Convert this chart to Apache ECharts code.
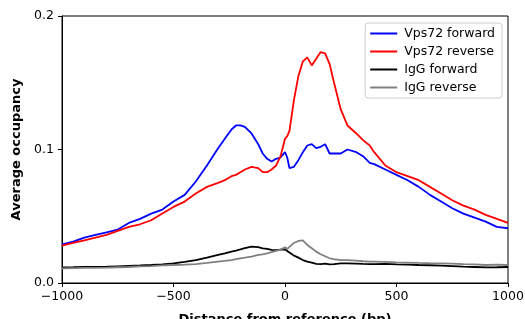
<!DOCTYPE html>
<html>
<head>
<meta charset="utf-8">
<script src="https://cdn.jsdelivr.net/npm/echarts@6/dist/echarts.min.js"></script>
<style>
  html, body { margin: 0; padding: 0; background: #fff; }
  #chartWrapper { width: 525px; height: 319px; }
</style>
</head>
<body>
<div id="chartWrapper"></div>
<script>
// 距離 (bp)
const positions = [
  -1000, -950, -900, -850, -800, -750, -700, -650, -600, -550, -500, -450, -400, -350, -300,
  -270, -240, -220, -200, -180, -150, -120, -100, -80, -60, -40, -20, 0, 10, 20,
  40, 60, 80, 100, 120, 140, 160, 180, 200, 220, 250, 280, 320, 350, 380, 400,
  450, 500, 550, 600, 650, 700, 750, 800, 850, 900, 950, 1000
];
const vps72Forward = [
  0.029, 0.031, 0.034, 0.036, 0.038, 0.040, 0.045, 0.048, 0.052, 0.055, 0.061, 0.066, 0.076, 0.088, 0.101,
  0.108, 0.115, 0.118, 0.118, 0.117, 0.112, 0.104, 0.097, 0.093, 0.091, 0.093, 0.094, 0.098, 0.094, 0.086,
  0.087, 0.092, 0.098, 0.103, 0.104, 0.101, 0.102, 0.104, 0.097, 0.097, 0.097, 0.100, 0.098, 0.095, 0.090, 0.089,
  0.085, 0.081, 0.077, 0.072, 0.066, 0.061, 0.056, 0.052, 0.049, 0.046, 0.042, 0.041
];
const vps72Reverse = [
  0.028, 0.030, 0.032, 0.034, 0.036, 0.039, 0.042, 0.044, 0.047, 0.052, 0.057, 0.061, 0.067, 0.072, 0.075,
  0.077, 0.080, 0.081, 0.083, 0.085, 0.087, 0.086, 0.083, 0.083, 0.085, 0.088, 0.095, 0.108, 0.110, 0.114,
  0.137, 0.155, 0.166, 0.169, 0.163, 0.168, 0.173, 0.172, 0.164, 0.150, 0.130, 0.118, 0.112, 0.107, 0.103, 0.098,
  0.088, 0.083, 0.080, 0.077, 0.072, 0.067, 0.062, 0.058, 0.055, 0.051, 0.048, 0.045
];
const iggForward = [
  0.0117, 0.0118, 0.0120, 0.0121, 0.0122, 0.0125, 0.0128, 0.0131, 0.0135, 0.0140, 0.0147, 0.0158, 0.0172, 0.0190, 0.0210,
  0.0222, 0.0235, 0.0243, 0.0252, 0.0262, 0.0272, 0.0268, 0.0260, 0.0255, 0.0248, 0.0247, 0.0250, 0.0252, 0.0240, 0.0228,
  0.0205, 0.0190, 0.0172, 0.0160, 0.0152, 0.0143, 0.0142, 0.0145, 0.0140, 0.0142, 0.0147, 0.0147, 0.0145, 0.0143, 0.0142, 0.0142,
  0.0143, 0.0140, 0.0138, 0.0135, 0.0133, 0.0130, 0.0127, 0.0122, 0.0120, 0.0117, 0.0118, 0.0120
];
const iggReverse = [
  0.0110, 0.0112, 0.0113, 0.0114, 0.0115, 0.0118, 0.0120, 0.0124, 0.0127, 0.0132, 0.0135, 0.0138, 0.0142, 0.0150, 0.0160,
  0.0165, 0.0172, 0.0178, 0.0185, 0.0190, 0.0198, 0.0210, 0.0215, 0.0222, 0.0232, 0.0240, 0.0250, 0.0267, 0.0255, 0.0270,
  0.0300, 0.0315, 0.0320, 0.0285, 0.0260, 0.0235, 0.0215, 0.0200, 0.0185, 0.0178, 0.0172, 0.0172, 0.0168, 0.0163, 0.0160, 0.0160,
  0.0158, 0.0155, 0.0153, 0.0150, 0.0148, 0.0147, 0.0145, 0.0142, 0.0140, 0.0135, 0.0137, 0.0135
];
const seriesNames = ["Vps72 forward", "Vps72 reverse", "IgG forward", "IgG reverse"];
const seriesColors = ["#0000ff", "#ff0000", "#000000", "#808080"];
const xTicks = [-1000, -500, 0, 500, 1000];
const yTicks = [0, 0.1, 0.2];

const myChart = echarts.init(document.getElementById("chartWrapper"));
const font = "DejaVu Sans";
const allValues = [vps72Forward, vps72Reverse, iggForward, iggReverse];

let option = {
  animation: false,
  backgroundColor: "#fff",
  textStyle: { fontFamily: font },
  grid: {
    left: 62,
    right: 17,
    top: 16,
    bottom: 36,
    containLabel: false,
    outerBoundsMode: "none",
    show: true,
    borderColor: "#000",
    borderWidth: 1,
  },
  legend: {
    orient: "vertical",
    right: 23,
    top: 23,
    padding: [4, 7, 4, 5],
    itemGap: 5,
    itemWidth: 27,
    itemHeight: 2,
    icon: "rect",
    borderColor: "#cccccc",
    borderWidth: 1,
    borderRadius: 3,
    backgroundColor: "rgba(255,255,255,0.8)",
    textStyle: { fontFamily: font, fontSize: 12.5, color: "#000", padding: [0, 0, 0, 2] },
    data: seriesNames,
  },
  xAxis: {
    type: "value",
    min: -1000,
    max: 1000,
    interval: 500,
    name: "Distance from reference (bp)",
    nameLocation: "middle",
    nameGap: 30,
    nameTextStyle: { fontFamily: font, fontSize: 13, fontWeight: "bold", color: "#000" },
    axisLine: { show: true, onZero: false, lineStyle: { color: "#000", width: 1 } },
    axisTick: { show: true, inside: false, length: 4, lineStyle: { color: "#000" } },
    splitLine: { show: false },
    axisLabel: {
      margin: 7,
      fontSize: 12.5,
      color: "#000",
      fontFamily: font,
      formatter: (v) => xTicks.includes(v) ? String(v).replace("-", "\u2212") : "",
    },
  },
  yAxis: {
    type: "value",
    min: 0,
    max: 0.2,
    interval: 0.1,
    name: "Average occupancy",
    nameLocation: "middle",
    nameGap: 35,
    nameTextStyle: { fontFamily: font, fontSize: 13, fontWeight: "bold", color: "#000" },
    axisLine: { show: true, onZero: false, lineStyle: { color: "#000", width: 1 } },
    axisTick: { show: true, inside: false, length: 4, lineStyle: { color: "#000" } },
    splitLine: { show: false },
    axisLabel: {
      margin: 8,
      fontSize: 12.5,
      color: "#000",
      fontFamily: font,
      formatter: (v) => yTicks.some(t => Math.abs(t - v) < 1e-9) ? v.toFixed(1) : "",
    },
  },
  series: seriesNames.map((name, i) => ({
    name: name,
    type: "line",
    showSymbol: false,
    smooth: false,
    color: seriesColors[i],
    lineStyle: { color: seriesColors[i], width: 1.8 },
    data: positions.map((x, j) => [x, allValues[i][j]]),
  })),
};

myChart.setOption(option);
</script>
</body>
</html>
